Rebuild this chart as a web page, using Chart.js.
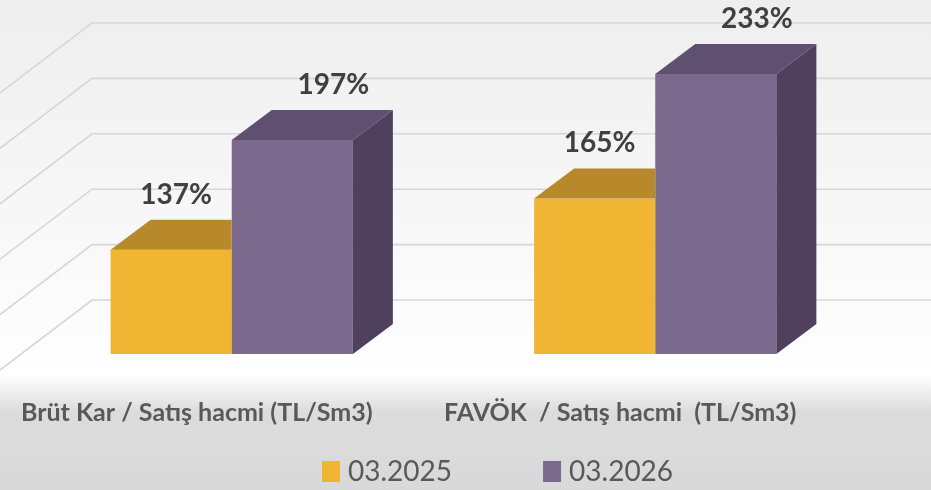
<!DOCTYPE html>
<html lang="tr">
<head>
<meta charset="utf-8">
<title>Brüt Kar ve FAVÖK / Satış hacmi</title>
<script src="https://cdn.jsdelivr.net/npm/chart.js@4.4.1/dist/chart.umd.min.js"></script>
<style>
  html, body { margin: 0; padding: 0; background: #fff; }
  #chart { display: block; }
</style>
</head>
<body>
<canvas id="chart" width="931" height="490"></canvas>
<script>
const categories = ['Brüt Kar / Satış hacmi (TL/Sm3)', 'FAVÖK  / Satış hacmi  (TL/Sm3)'];
const seriesNames = ['03.2025', '03.2026'];
const values2025 = [137, 165];
const values2026 = [197, 233];
const wallTicks = [0, 50, 100, 150, 200, 250];

// look of the fake 3d
const AXIS_FLOOR = 80;
const DEPTH_X = 40;
const DEPTH_Y = -30;
const WALL_LEFT = 92;
const SIDE_DROP = 70;
const frontColors = ['#f0b532', '#7b698e'];
const topColors = ['#b8892a', '#5f4f70'];
const sideColors = ['#9a7322', '#4f405e'];
const labelShift = [5, 41];

function poly(ctx, pts, color) {
  ctx.beginPath();
  ctx.moveTo(pts[0][0], pts[0][1]);
  for (let i = 1; i < pts.length; i++) ctx.lineTo(pts[i][0], pts[i][1]);
  ctx.closePath();
  ctx.fillStyle = color;
  ctx.fill();
}

const backdrop = {
  id: 'backdrop',
  beforeDraw(chart) {
    const { ctx, width, height } = chart;
    const g = ctx.createLinearGradient(0, 0, 0, height);
    g.addColorStop(0, '#eeeeee');
    g.addColorStop(0.70, '#fdfdfd');
    g.addColorStop(0.765, '#ffffff');
    g.addColorStop(0.84, '#dcdcdc');
    g.addColorStop(1, '#d9d9d9');
    ctx.save();
    ctx.fillStyle = g;
    ctx.fillRect(0, 0, width, height);
    ctx.restore();
  },
  beforeDatasetsDraw(chart) {
    // back wall + side wall grid lines
    const { ctx, width } = chart;
    const wall = chart.scales.wall;
    ctx.save();
    ctx.strokeStyle = '#d6d6d6';
    ctx.lineWidth = 1.6;
    wallTicks.forEach(t => {
      const y = wall.getPixelForValue(t);
      ctx.beginPath();
      ctx.moveTo(width, y);
      ctx.lineTo(WALL_LEFT, y);
      ctx.lineTo(0, y + SIDE_DROP);
      ctx.stroke();
    });
    ctx.restore();
  }
};

const bars3d = {
  id: 'bars3d',
  afterDatasetsDraw(chart) {
    const ctx = chart.ctx;
    const sets = chart.data.datasets;
    const bottom = chart.chartArea.bottom;

    sets.forEach((ds, i) => {
      const meta = chart.getDatasetMeta(i);
      meta.data.forEach((bar, j) => {
        const { x, y, base, width } = bar.getProps(['x', 'y', 'base', 'width'], true);
        const b = Math.min(base, bottom);
        const l = x - width / 2;
        const r = x + width / 2;
        ctx.save();
        const next = sets[i + 1];
        if (next && next.data[j] >= ds.data[j]) {
          ctx.beginPath();
          ctx.rect(0, 0, r, chart.height);
          ctx.clip();
        }
        poly(ctx, [[r, y], [r + DEPTH_X, y + DEPTH_Y], [r + DEPTH_X, b + DEPTH_Y], [r, b]], sideColors[i]);
        poly(ctx, [[l, y], [r, y], [r + DEPTH_X, y + DEPTH_Y], [l + DEPTH_X, y + DEPTH_Y]], topColors[i]);
        ctx.restore();
      });
    });

    // value labels
    ctx.save();
    ctx.font = 'bold 28px Lato, "Open Sans", sans-serif';
    ctx.fillStyle = '#404040';
    ctx.textAlign = 'center';
    ctx.textBaseline = 'alphabetic';
    sets.forEach((ds, i) => {
      chart.getDatasetMeta(i).data.forEach((bar, j) => {
        ctx.fillText(ds.data[j] + '%', bar.x + labelShift[i], bar.y - 46);
      });
    });
    ctx.restore();
  },
  afterDraw(chart) {
    // legend row
    const ctx = chart.ctx;
    ctx.save();
    ctx.font = '28px Lato, "Open Sans", sans-serif';
    ctx.textBaseline = 'middle';
    ctx.textAlign = 'left';
    let x = 322;
    const cy = 471;
    chart.data.datasets.forEach(ds => {
      ctx.fillStyle = ds.backgroundColor;
      ctx.fillRect(x, cy - 10, 18, 21);
      ctx.fillStyle = '#595959';
      ctx.fillText(ds.label, x + 26, cy + 1);
      x += 26 + ctx.measureText(ds.label).width + 91;
    });
    ctx.restore();
  }
};

Chart.defaults.font.family = 'Lato, "Open Sans", sans-serif';

new Chart(document.getElementById('chart'), {
  type: 'bar',
  data: {
    labels: categories,
    datasets: [
      { label: seriesNames[0], data: values2025, base: AXIS_FLOOR, backgroundColor: frontColors[0], borderWidth: 0 },
      { label: seriesNames[1], data: values2026, base: AXIS_FLOOR, backgroundColor: frontColors[1], borderWidth: 0 }
    ]
  },
  options: {
    responsive: false,
    animation: false,
    layout: { padding: { top: 10, left: 20, right: 64, bottom: 0 } },
    categoryPercentage: 0.572,
    barPercentage: 1.0,
    scales: {
      x: {
        grid: { display: false, drawTicks: false },
        border: { display: false },
        ticks: {
          color: '#595959',
          font: { size: 25, weight: 'bold' },
          padding: 44,
          labelOffset: -35,
          maxRotation: 0,
          autoSkip: false
        },
        afterFit(scale) { scale.height = 136; }
      },
      y: { display: false, min: AXIS_FLOOR, max: 268 },
      wall: { display: false, position: 'left', min: -48.7, max: 261.7 }
    },
    plugins: {
      legend: { display: false },
      tooltip: { enabled: false }
    }
  },
  plugins: [backdrop, bars3d]
});
</script>
</body>
</html>
